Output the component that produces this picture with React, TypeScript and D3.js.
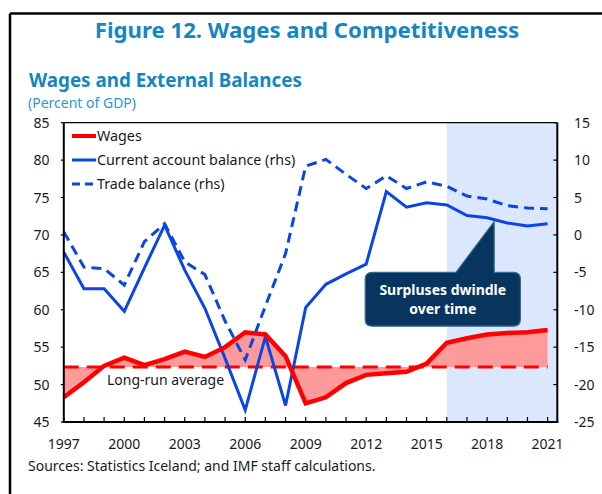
import React from "react";
import * as d3 from "d3";

const years = [1997, 1998, 1999, 2000, 2001, 2002, 2003, 2004, 2005, 2006, 2007, 2008, 2009, 2010, 2011, 2012, 2013, 2014, 2015, 2016, 2017, 2018, 2019, 2020, 2021];
const wages = [48.3, 50.3, 52.5, 53.6, 52.6, 53.4, 54.4, 53.7, 55.0, 57.0, 56.7, 53.8, 47.5, 48.3, 50.2, 51.3, 51.5, 51.7, 52.8, 55.6, 56.2, 56.7, 56.9, 57.0, 57.3];
const currentAccount = [-2.3, -7.2, -7.2, -10.2, -4.4, 1.3, -4.7, -9.8, -16.5, -23.4, -13.6, -22.8, -9.7, -6.6, -5.2, -3.9, 5.8, 3.7, 4.3, 4.0, 2.6, 2.3, 1.6, 1.2, 1.5];
const tradeBalance = [0.4, -4.3, -4.5, -6.7, -0.9, 1.5, -3.6, -5.3, -11.5, -16.7, -9.5, -2.5, 9.2, 10.1, 8.1, 6.2, 7.9, 6.2, 7.1, 6.5, 5.2, 4.8, 3.9, 3.6, 3.5];
const longRunAverage = 52.35;
const leftTicks = [45, 50, 55, 60, 65, 70, 75, 80, 85];
const rightTicks = [-25, -20, -15, -10, -5, 0, 5, 10, 15];
const xLabelYears = [1997, 2000, 2003, 2006, 2009, 2012, 2015, 2018, 2021];
const projectionStart = 2016;

const FONT = "'Noto Sans', 'Open Sans', sans-serif";
const TITLE_COLOR = "#1686bf";
const RED = "#ff0000";
const BLUE = "#0a46e6";

export default function App() {
  const L = 63.8, R = 557.3, T = 122.7, B = 422;
  const x = d3.scaleLinear().domain([1997, 2021.48]).range([L, R]);
  const yL = d3.scaleLinear().domain([45, 85]).range([B, T]);
  const yR = d3.scaleLinear().domain([-25, 15]).range([B, T]);

  const wagePts = years.map((yr, i) => ({ yr, v: wages[i] }));
  const area = d3.area<{ yr: number; v: number }>()
    .x(d => x(d.yr)).y0(yL(longRunAverage)).y1(d => yL(d.v));
  const wageLine = d3.line<{ yr: number; v: number }>().x(d => x(d.yr)).y(d => yL(d.v));
  const rLine = d3.line<number>().x((_, i) => x(years[i])).y(d => yR(d));

  const xs = x(projectionStart);

  // callout anchored in data space
  const tipX = x(2018.35), tipY = yR(1.8);
  const boxL = x(2011.95), boxR = x(2019.65), boxT = yR(-5.0), boxB = yR(-12.2);
  const baseL = x(2016.45);
  const cx = (boxL + boxR) / 2;

  return (
    <svg width={602} height={494} style={{ position: "absolute", left: 0, top: 0, background: "#fff" }} fontFamily={FONT}>
      {/* outer frame */}
      <line x1={10} y1={13.5} x2={602} y2={13.5} stroke="#000" strokeWidth={2.5} />
      <line x1={10} y1={13.5} x2={10} y2={494} stroke="#000" strokeWidth={2.5} />

      <text x={307} y={38} textAnchor="middle" fontSize={22.2} fontWeight={700} fill={TITLE_COLOR}>Figure 12. Wages and Competitiveness</text>
      <text x={29} y={87} fontSize={18.8} fontWeight={700} fill={TITLE_COLOR}>Wages and External Balances</text>
      <text x={28} y={108} fontSize={14} fill="#2a98d0">(Percent of GDP)</text>

      {/* projection shading */}
      <rect x={xs} y={T} width={R - xs} height={B - T} fill="#dbe7fc" />

      {/* wage gap fill */}
      <path d={area(wagePts) || ""} fill="#ff9a9a" />

      {/* long-run average */}
      <line x1={L} x2={x(2021)} y1={yL(longRunAverage)} y2={yL(longRunAverage)} stroke={RED} strokeWidth={3} strokeDasharray="15 8" />

      {/* lines */}
      <path d={rLine(tradeBalance) || ""} fill="none" stroke={BLUE} strokeWidth={3} strokeDasharray="10 6" />
      <path d={rLine(currentAccount) || ""} fill="none" stroke={BLUE} strokeWidth={3} />
      <path d={wageLine(wagePts) || ""} fill="none" stroke={RED} strokeWidth={4.5} strokeLinejoin="miter" />

      {/* axes frame */}
      <line x1={L} x2={R} y1={T} y2={T} stroke="#000" strokeWidth={1.2} />
      <line x1={L} x2={L} y1={T} y2={B + 1} stroke="#000" strokeWidth={2} />
      <line x1={R} x2={R} y1={T} y2={B + 1} stroke="#000" strokeWidth={2} />
      <line x1={L - 1} x2={R + 1} y1={B} y2={B} stroke="#000" strokeWidth={2.2} />

      {/* x ticks */}
      {years.map(yr => (
        <line key={yr} x1={x(yr)} x2={x(yr)} y1={B} y2={B - 5} stroke="#000" strokeWidth={1.2} />
      ))}
      {xLabelYears.map(yr => (
        <text key={yr} x={x(yr)} y={449} textAnchor="middle" fontSize={14} fill="#1a1a1a">{yr}</text>
      ))}

      {/* left ticks */}
      {leftTicks.map(t => (
        <g key={t}>
          <line x1={L - 3} x2={L} y1={yL(t)} y2={yL(t)} stroke="#000" strokeWidth={1.2} />
          <text x={49.5} y={yL(t) + 5} textAnchor="end" fontSize={14} fill="#1a1a1a">{t}</text>
        </g>
      ))}
      {/* right ticks */}
      {rightTicks.map(t => (
        <g key={t}>
          <line x1={R - 4} x2={R} y1={yR(t)} y2={yR(t)} stroke="#000" strokeWidth={1.2} />
          <text x={574} y={yR(t) + 5} textAnchor="start" fontSize={14} fill="#1a1a1a">{t}</text>
        </g>
      ))}

      {/* legend */}
      <line x1={72} x2={96} y1={136} y2={136} stroke={RED} strokeWidth={4} />
      <text x={97} y={141} fontSize={14.3} fill="#1a1a1a">Wages</text>
      <line x1={72} x2={96} y1={160} y2={160} stroke={BLUE} strokeWidth={3} />
      <text x={97} y={165} fontSize={14.3} fill="#1a1a1a">Current account balance (rhs)</text>
      <line x1={72} x2={96} y1={184} y2={184} stroke={BLUE} strokeWidth={3} strokeDasharray="8 5" />
      <text x={97} y={189} fontSize={14.3} fill="#1a1a1a">Trade balance (rhs)</text>

      <text x={107} y={385} fontSize={14} fill="#1a1a1a">Long-run average</text>

      {/* callout */}
      <path
        d={`M${boxL + 7},${boxT} L${baseL},${boxT} L${tipX},${tipY} L${tipX},${boxT} L${boxR - 7},${boxT} Q${boxR},${boxT} ${boxR},${boxT + 7} L${boxR},${boxB - 7} Q${boxR},${boxB} ${boxR - 7},${boxB} L${boxL + 7},${boxB} Q${boxL},${boxB} ${boxL},${boxB - 7} L${boxL},${boxT + 7} Q${boxL},${boxT} ${boxL + 7},${boxT} Z`}
        fill="#07355e" stroke="#3a6a94" strokeWidth={1.2}
      />
      <text x={cx} y={295} textAnchor="middle" fontSize={14} fontWeight={700} fill="#fff">Surpluses dwindle</text>
      <text x={cx} y={314} textAnchor="middle" fontSize={14} fontWeight={700} fill="#fff">over time</text>

      <text x={28} y={471} fontSize={14} fill="#1a1a1a">Sources: Statistics Iceland; and IMF staff calculations.</text>
    </svg>
  );
}
